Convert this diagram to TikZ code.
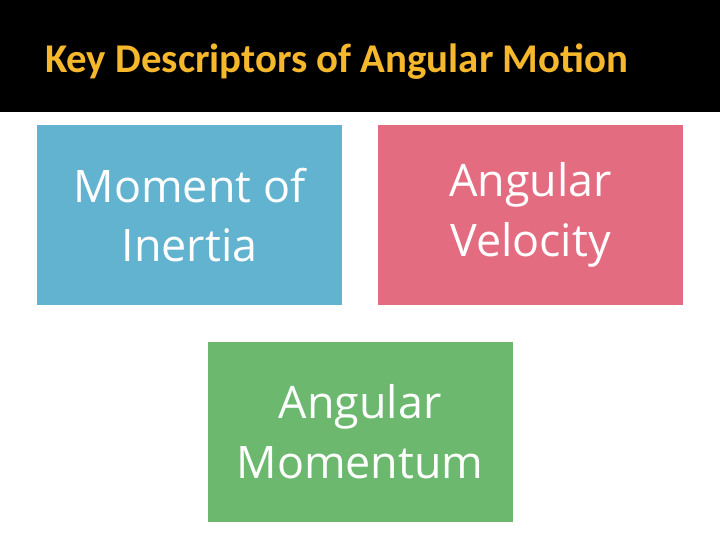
\documentclass[tikz,border=0pt]{standalone}
\usepackage{fontspec}
\setmainfont{Open Sans}
\newfontfamily\titlefont{Carlito}
\definecolor{titlegold}{HTML}{F5B72C}
\definecolor{boxblue}{HTML}{62B3CF}
\definecolor{boxpink}{HTML}{E46C80}
\definecolor{boxgreen}{HTML}{6BB86E}
\begin{document}
\begin{tikzpicture}[x=1bp,y=-1bp,
    term box/.style={minimum width=305bp,minimum height=180bp,inner sep=0pt,
        text=white,align=center,font=\fontsize{45}{60}\selectfont}]
        \useasboundingbox (0,0) rectangle (720,540);
        \fill[white] (0,0) rectangle (720,540);
        \fill[black] (0,0) rectangle (720,112);
        \node[anchor=west,inner sep=0pt,text=titlegold,font=\titlefont\bfseries\fontsize{41}{46}\selectfont] (title) at (45,62) {Key Descriptors of Angular Motion};

        \node[term box,fill=boxblue] (inertia) at (189.5,215) {Moment of\\Inertia};
        \node[term box,fill=boxpink] (velocity) at (530.5,215) {Angular\\Velocity};
        \node[term box,fill=boxgreen] (momentum) at (360,432) {Angular\\Momentum};
\end{tikzpicture}
\end{document}
